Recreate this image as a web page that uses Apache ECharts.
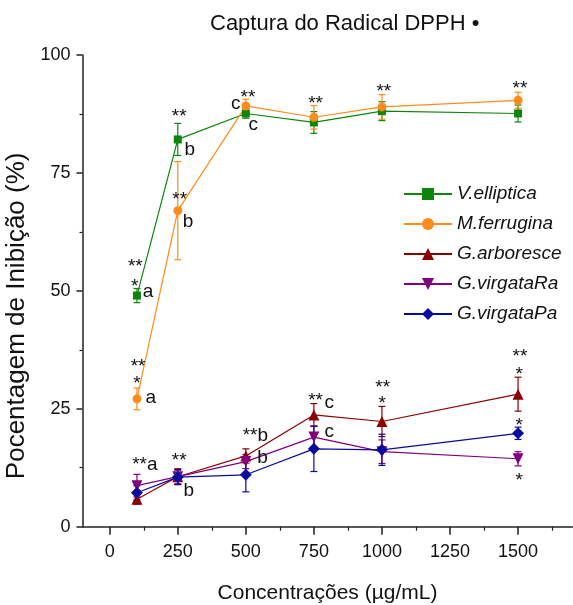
<!DOCTYPE html>
<html>
<head>
<meta charset="utf-8">
<script src="https://cdn.jsdelivr.net/npm/echarts@6/dist/echarts.min.js"></script>
<style>html,body{margin:0;padding:0;background:#fff}#c{width:573px;height:605px}</style>
</head>
<body>
<div id="c"></div>
<script>
// ---- data ----
const concentrations = [100, 250, 500, 750, 1000, 1500];
const xTickValues = [0, 250, 500, 750, 1000, 1250, 1500];
const xMinorTickValues = [125, 375, 625, 875, 1125, 1375, 1625];
const seriesNames = ['V.elliptica', 'M.ferrugina', 'G.arboresce', 'G.virgataRa', 'G.virgataPa'];
const vElliptica = [49.0, 82.1, 87.6, 85.7, 88.1, 87.6];
const vEllipticaErr = [1.5, 3.4, 1.0, 2.3, 2.0, 1.8];
const mFerrugina = [27.1, 67.0, 89.2, 86.8, 89.0, 90.4];
const mFerruginaErr = [2.3, 10.4, 1.4, 2.5, 2.6, 1.7];
const gArboresce = [5.8, 10.6, 15.0, 23.7, 22.3, 28.1];
const gArboresceErr = [1.0, 1.7, 1.5, 2.4, 3.2, 3.6];
const gVirgataRa = [8.7, 10.6, 13.8, 19.0, 15.9, 14.4];
const gVirgataRaErr = [2.4, 1.5, 1.5, 2.3, 2.5, 1.5];
const gVirgataPa = [7.2, 10.5, 11.0, 16.5, 16.3, 19.8];
const gVirgataPaErr = [1.5, 1.5, 3.6, 4.8, 3.3, 1.3];
// significance annotations: [x, y, text]
const annotations = [
  [94, 55.0, '**'], [92, 50.8, '*'], [141, 49.9, 'a'],
  [104, 34.0, '**'], [100, 30.2, '*'], [151, 27.4, 'a'],
  [255, 86.8, '**'], [294, 79.9, 'b'],
  [257, 69.4, '**'], [288, 64.7, 'b'],
  [463, 89.6, 'c'], [508, 90.9, '**'], [527, 85.3, 'c'],
  [756, 89.7, '**'], [1007, 92.3, '**'], [1507, 92.9, '**'],
  [129, 13.2, '**a'], [255, 13.9, '**'], [290, 7.6, 'b'],
  [535, 19.2, '**b'], [561, 14.7, 'b'],
  [756, 26.8, '**'], [806, 26.3, 'c'], [806, 20.2, 'c'],
  [1003, 29.5, '**'], [1001, 26.1, '*'],
  [1507, 36.0, '**'], [1504, 32.3, '*'], [1504, 21.5, '*'], [1504, 9.7, '*']
];

// ---- styles ----
const FONT = "'Liberation Sans', Arial, sans-serif";
const colors = ['#0b860b', '#ff8c1a', '#8b0000', '#800080', '#0a0aa0'];
const symbols = ['rect', 'circle', 'triangle', 'path://M0,0 L10,0 L5,9 Z', 'diamond'];
const symbolSizes = [8, 9, 11, 11, 12];
const values = [vElliptica, mFerrugina, gArboresce, gVirgataRa, gVirgataPa];
const errs = [vEllipticaErr, mFerruginaErr, gArboresceErr, gVirgataRaErr, gVirgataPaErr];

const series = [];
seriesNames.forEach((name, k) => {
  series.push({
    type: 'custom', name: name + ' erro', silent: true, z: 2,
    data: concentrations.map((x, i) => [x, values[k][i], errs[k][i]]),
    renderItem: (params, api) => {
      const x = api.value(0), y = api.value(1), e = api.value(2);
      const t = api.coord([x, y + e]), b = api.coord([x, y - e]);
      const hw = 3.5;
      const st = { stroke: colors[k], lineWidth: 1.2, fill: null };
      return { type: 'group', children: [
        { type: 'line', shape: { x1: t[0], y1: t[1], x2: b[0], y2: b[1] }, style: st },
        { type: 'line', shape: { x1: t[0] - hw, y1: t[1], x2: t[0] + hw, y2: t[1] }, style: st },
        { type: 'line', shape: { x1: b[0] - hw, y1: b[1], x2: b[0] + hw, y2: b[1] }, style: st }
      ]};
    }
  });
  series.push({
    type: 'line', name: name, z: 3,
    data: concentrations.map((x, i) => [x, values[k][i]]),
    symbol: symbols[k], symbolSize: symbolSizes[k], showSymbol: true,
    lineStyle: { color: colors[k], width: 1.2 },
    itemStyle: { color: colors[k], borderWidth: 0 },
    emphasis: { disabled: true }, animation: false
  });
});
series.push({
  type: 'custom', name: 'anotacoes', silent: true, z: 5,
  data: annotations.map(a => [a[0], a[1]]),
  renderItem: (params, api) => {
    const p = api.coord([api.value(0), api.value(1)]);
    return { type: 'text', x: p[0], y: p[1], style: {
      text: annotations[params.dataIndex][2], fontFamily: FONT, fontSize: 19,
      fill: '#111', align: 'center', verticalAlign: 'middle' } };
  }
});

const chart = echarts.init(document.getElementById('c'), null, { renderer: 'canvas' });
chart.setOption({
  animation: false,
  backgroundColor: '#fff',
  title: {
    text: 'Captura do Radical DPPH •', left: 210, top: 13, padding: 0,
    textStyle: { fontFamily: FONT, fontSize: 22, fontWeight: 'normal', color: '#111' }
  },
  legend: {
    data: seriesNames, orient: 'vertical', left: 403, top: 184, padding: 0,
    itemWidth: 48, itemHeight: 15, itemGap: 10,
    textStyle: { fontFamily: FONT, fontSize: 19, fontStyle: 'italic', color: '#111', lineHeight: 20 },
    selectedMode: false
  },
  grid: { left: 82.5, right: 0.5, top: 55, bottom: 78.3, containLabel: false, outerBoundsMode: 'none' },
  xAxis: [{
    type: 'value', min: -100, max: 1700,
    name: 'Concentrações (µg/mL)', nameLocation: 'middle', nameGap: 56,
    nameTextStyle: { fontFamily: FONT, fontSize: 21, color: '#111' },
    axisLine: { show: true, onZero: false, lineStyle: { color: '#222', width: 1.5 } },
    axisTick: { show: true, length: 8, customValues: xTickValues, lineStyle: { color: '#222', width: 1.5 } },
    axisLabel: { show: true, customValues: xTickValues, margin: 16, fontFamily: FONT, fontSize: 18, color: '#111',
      formatter: v => String(v) },
    splitLine: { show: false }
  }, {
    type: 'value', min: -100, max: 1700, position: 'bottom',
    axisLine: { show: false },
    axisTick: { show: true, length: 4, customValues: xMinorTickValues, lineStyle: { color: '#222', width: 1.2 } },
    axisLabel: { show: false }, splitLine: { show: false }
  }],
  yAxis: {
    type: 'value', min: 0, max: 100, interval: 25,
    name: 'Pocentagem de Inibição (%)', nameLocation: 'middle', nameGap: 35, nameRotate: 90,
    nameTextStyle: { fontFamily: FONT, fontSize: 26, color: '#111', padding: [0, 50, 0, 0] },
    axisLine: { show: true, onZero: false, lineStyle: { color: '#222', width: 1.5 } },
    axisTick: { show: true, length: 6, lineStyle: { color: '#222', width: 1.5 } },
    minorTick: { show: true, splitNumber: 2, length: 3, lineStyle: { color: '#222', width: 1.2 } },
    axisLabel: { margin: 12, fontFamily: FONT, fontSize: 18, color: '#111' },
    splitLine: { show: false }
  },
  series: series
});
</script>
</body>
</html>
